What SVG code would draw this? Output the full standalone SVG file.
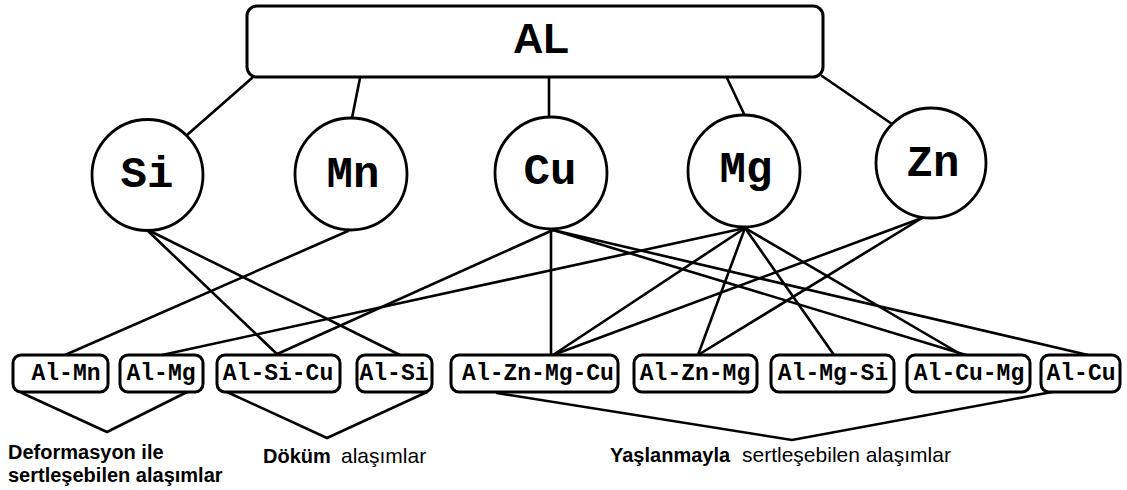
<svg xmlns="http://www.w3.org/2000/svg" width="1127" height="490" viewBox="0 0 1127 490">
<style>
.ln{stroke:#000;stroke-width:2.6;fill:none;stroke-linecap:round}
.circ{fill:#fff;stroke:#000;stroke-width:2.8}
.box{fill:#fff;stroke:#000;stroke-width:3}
.el{font-family:"Liberation Mono","Courier New",monospace;font-weight:bold;font-size:44px;text-anchor:middle;fill:#000}
.al{font-family:"Liberation Mono","Courier New",monospace;font-weight:bold;font-size:23px;text-anchor:middle;fill:#000}
.cap{font-family:"Liberation Sans",Arial,sans-serif;font-size:20px;fill:#000}
.b{font-weight:bold}
.r{font-size:21px}
</style>
<rect width="1127" height="490" fill="#fff"/>
<g id="connectors">
<line class="ln" x1="252" y1="78" x2="187" y2="135"/>
<line class="ln" x1="360" y1="78" x2="352" y2="118"/>
<line class="ln" x1="549" y1="78" x2="549" y2="117"/>
<line class="ln" x1="727" y1="78" x2="745" y2="116"/>
<line class="ln" x1="822" y1="76" x2="892" y2="124"/>
<line class="ln" x1="348" y1="231" x2="65" y2="355"/>
<line class="ln" x1="745" y1="228" x2="162" y2="355"/>
<line class="ln" x1="148" y1="231" x2="278" y2="355"/>
<line class="ln" x1="553" y1="230" x2="275" y2="355"/>
<line class="ln" x1="150" y1="231" x2="400" y2="355"/>
<line class="ln" x1="551" y1="229" x2="551" y2="355"/>
<line class="ln" x1="745" y1="228" x2="553" y2="355"/>
<line class="ln" x1="922" y1="218" x2="553" y2="355"/>
<line class="ln" x1="745" y1="228" x2="698" y2="355"/>
<line class="ln" x1="922" y1="218" x2="698" y2="355"/>
<line class="ln" x1="745" y1="228" x2="834" y2="355"/>
<line class="ln" x1="745" y1="228" x2="962" y2="355"/>
<line class="ln" x1="553" y1="230" x2="966" y2="355"/>
<line class="ln" x1="553" y1="230" x2="1088" y2="355"/>
<polyline class="ln" points="22,393 107,432 187,392"/>
<polyline class="ln" points="227,392 327,438 427,392"/>
<polyline class="ln" points="497,393 792,440 1052,392"/>
</g>
<g id="AL">
<rect class="box" x="247" y="6" width="576" height="71" rx="10" stroke-width="3.5"/>
<text x="541" y="53" font-family="Liberation Sans,Arial,sans-serif" font-weight="bold" font-size="42" text-anchor="middle">AL</text>
</g>
<g id="Si"><circle class="circ" cx="147.5" cy="175" r="55.5"/><text class="el" x="147" y="187">Si</text></g>
<g id="Mn"><circle class="circ" cx="351" cy="174" r="56"/><text class="el" x="353" y="187">Mn</text></g>
<g id="Cu"><circle class="circ" cx="551" cy="173" r="56"/><text class="el" x="550" y="184">Cu</text></g>
<g id="Mg"><circle class="circ" cx="744" cy="171" r="56"/><text class="el" x="746" y="182">Mg</text></g>
<g id="Zn"><circle class="circ" cx="931" cy="163" r="55"/><text class="el" x="933" y="176">Zn</text></g>
<g id="Al-Mn"><rect class="box" x="13" y="355" width="95" height="37" rx="8"/><text class="al" x="66" y="380">Al-Mn</text></g>
<g id="Al-Mg"><rect class="box" x="120" y="355" width="83" height="37" rx="8"/><text class="al" x="161" y="380">Al-Mg</text></g>
<g id="Al-Si-Cu"><rect class="box" x="217" y="355" width="123" height="37" rx="8"/><text class="al" x="278" y="380">Al-Si-Cu</text></g>
<g id="Al-Si"><rect class="box" x="357" y="355" width="75" height="37" rx="8"/><text class="al" x="394" y="380">Al-Si</text></g>
<g id="Al-Zn-Mg-Cu"><rect class="box" x="451" y="355" width="167" height="37" rx="8"/><text class="al" x="538" y="380">Al-Zn-Mg-Cu</text></g>
<g id="Al-Zn-Mg"><rect class="box" x="634" y="355" width="123" height="37" rx="8"/><text class="al" x="695" y="380">Al-Zn-Mg</text></g>
<g id="Al-Mg-Si"><rect class="box" x="771" y="355" width="123" height="37" rx="8"/><text class="al" x="833" y="380">Al-Mg-Si</text></g>
<g id="Al-Cu-Mg"><rect class="box" x="907" y="355" width="123" height="37" rx="8"/><text class="al" x="969" y="380">Al-Cu-Mg</text></g>
<g id="Al-Cu"><rect class="box" x="1041" y="355" width="79" height="37" rx="8"/><text class="al" x="1081" y="380">Al-Cu</text></g>
<g id="labels">
<text class="cap b" x="8" y="459">Deformasyon ile</text>
<text class="cap b" x="8" y="482">sertleşebilen alaşımlar</text>
<text class="cap b" x="263" y="463">Döküm</text>
<text class="cap r" x="341" y="463">alaşımlar</text>
<text class="cap b" x="610" y="462">Yaşlanmayla</text>
<text class="cap r" x="742" y="462">sertleşebilen alaşımlar</text>
</g>
</svg>
